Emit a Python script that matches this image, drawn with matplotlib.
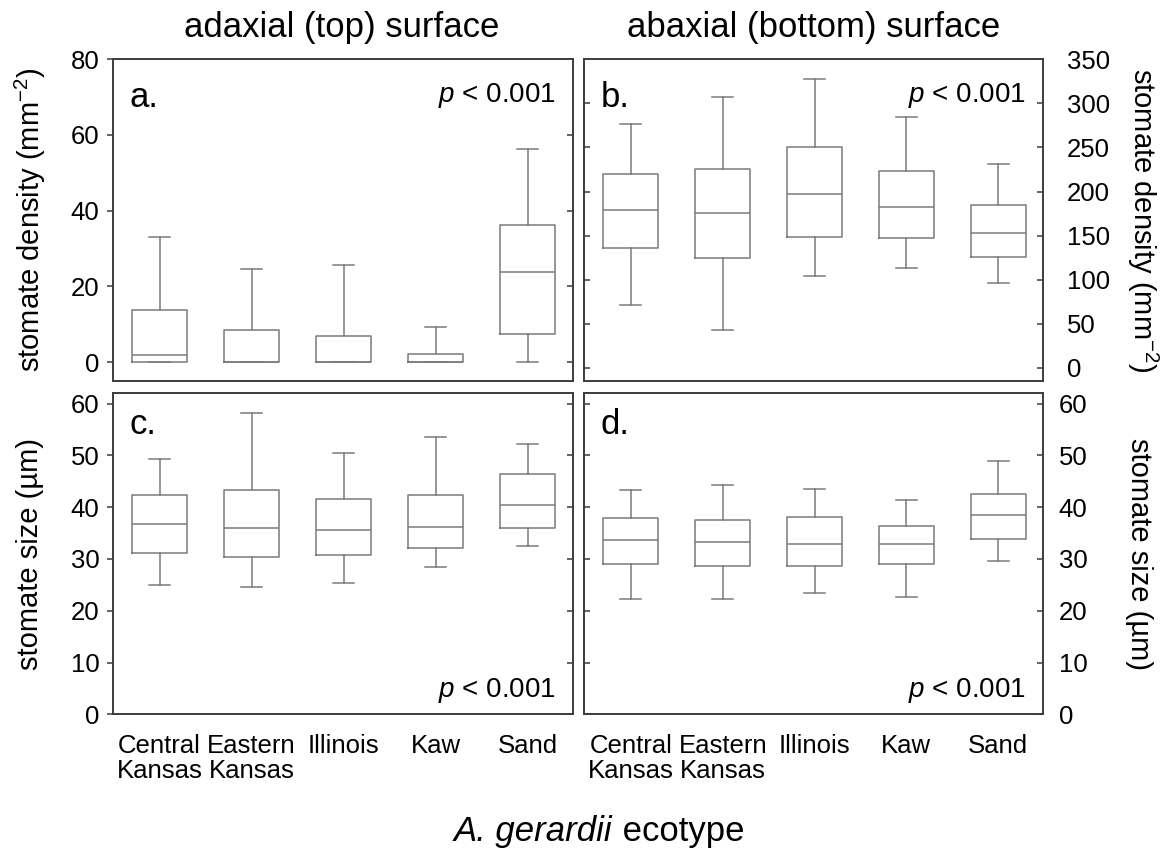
import matplotlib
matplotlib.use('Agg')
import matplotlib.pyplot as plt

plt.rcParams['font.family'] = ['Liberation Sans', 'DejaVu Sans']
plt.rcParams['mathtext.fontset'] = 'custom'
plt.rcParams['mathtext.rm'] = 'Liberation Sans'
plt.rcParams['mathtext.it'] = 'Liberation Sans:italic'
plt.rcParams['mathtext.bf'] = 'Liberation Sans:bold'

ecotypes = ['Central\nKansas', 'Eastern\nKansas', 'Illinois', 'Kaw', 'Sand']

# (a) adaxial stomate density (mm^-2)
a_whislo = [0.0, 0.0, 0.0, 0.0, 0.0]
a_q1 = [0.0, 0.0, 0.0, 0.0, 7.5]
a_med = [1.8, 0.0, 0.0, 0.0, 23.9]
a_q3 = [13.7, 8.5, 6.8, 2.2, 36.1]
a_whishi = [33.1, 24.6, 25.6, 9.2, 56.3]

# (b) abaxial stomate density (mm^-2)
b_whislo = [71, 43, 104, 113, 96]
b_q1 = [136, 125, 148, 147, 126]
b_med = [179, 176, 197, 182, 153]
b_q3 = [220, 225, 250, 223, 185]
b_whishi = [277, 307, 328, 284, 231]

# (c) adaxial stomate size (um)
c_whislo = [25.0, 24.6, 25.4, 28.5, 32.6]
c_q1 = [31.2, 30.4, 30.8, 32.1, 36.0]
c_med = [36.7, 36.0, 35.6, 36.1, 40.5]
c_q3 = [42.4, 43.3, 41.5, 42.4, 46.5]
c_whishi = [49.3, 58.1, 50.5, 53.6, 52.3]

# (d) abaxial stomate size (um)
d_whislo = [22.2, 22.2, 23.5, 22.7, 29.6]
d_q1 = [29.0, 28.6, 28.6, 29.0, 33.8]
d_med = [33.6, 33.2, 32.8, 32.9, 38.5]
d_q3 = [38.0, 37.5, 38.2, 36.4, 42.6]
d_whishi = [43.4, 44.3, 43.5, 41.4, 48.9]

W, H = 1167, 860
fig = plt.figure(figsize=(W / 100, H / 100), dpi=100)

def px_axes(x0, y0, x1, y1):
    return fig.add_axes([x0 / W, 1 - y1 / H, (x1 - x0) / W, (y1 - y0) / H])

ax_a = px_axes(112.7, 59.3, 572.7, 381)
ax_b = px_axes(584, 59.3, 1043.3, 381)
ax_c = px_axes(112.7, 393.3, 572.7, 714.3)
ax_d = px_axes(584, 393.3, 1043.3, 714.3)

box_col = '#7a7a7a'
spine_col = '#3c3c3c'
TICK_FS = 18.5

def draw(ax, lo, q1, med, q3, hi):
    stats = []
    for i in range(len(ecotypes)):
        stats.append(dict(whislo=lo[i], q1=q1[i], med=med[i], q3=q3[i], whishi=hi[i], fliers=[]))
    lp = dict(color=box_col, linewidth=1.1)
    ax.bxp(stats, positions=list(range(len(ecotypes))), widths=0.6, capwidths=0.23,
           showfliers=False, boxprops=lp, whiskerprops=lp, capprops=lp,
           medianprops=lp, manage_ticks=False)
    ax.set_xlim(-0.51, 4.49)
    for s in ax.spines.values():
        s.set_color(spine_col)
        s.set_linewidth(1.4)

draw(ax_a, a_whislo, a_q1, a_med, a_q3, a_whishi)
draw(ax_b, b_whislo, b_q1, b_med, b_q3, b_whishi)
draw(ax_c, c_whislo, c_q1, c_med, c_q3, c_whishi)
draw(ax_d, d_whislo, d_q1, d_med, d_q3, d_whishi)

def left_panel(ax, ylim, ticks):
    ax.set_ylim(*ylim)
    ax.set_yticks(ticks)
    ax.tick_params(axis='y', direction='out', length=4.5, width=1.1, color=spine_col,
                   labelsize=TICK_FS, pad=5, right=False)
    tw = ax.twinx()
    tw.set_ylim(*ylim)
    tw.set_yticks(ticks)
    tw.tick_params(axis='y', direction='in', length=4.5, width=1.1, color=spine_col,
                   labelright=False)
    for s in tw.spines.values():
        s.set_visible(False)

def right_panel(ax, ylim, ticks, pad):
    ax.set_ylim(*ylim)
    ax.set_yticks(ticks)
    ax.tick_params(axis='y', direction='in', length=4.5, width=1.1, color=spine_col,
                   left=True, right=True, labelleft=False, labelright=True,
                   labelsize=TICK_FS, pad=pad)

left_panel(ax_a, (-5, 80), [0, 20, 40, 60, 80])
right_panel(ax_b, (-15, 350), list(range(0, 351, 50)), 17)
left_panel(ax_c, (0, 62), list(range(0, 61, 10)))
right_panel(ax_d, (0, 62), list(range(0, 61, 10)), 11)

for ax in (ax_a, ax_b):
    ax.set_xticks([])
for ax in (ax_c, ax_d):
    ax.set_xticks(list(range(len(ecotypes))))
    ax.set_xticklabels(ecotypes, fontsize=TICK_FS, linespacing=1.05)
    ax.tick_params(axis='x', length=0, pad=14)

# panel letters and p-values
for ax, lab, yb in ((ax_a, 'a.', 0.853), (ax_b, 'b.', 0.853), (ax_c, 'c.', 0.872), (ax_d, 'd.', 0.872)):
    ax.text(0.036, yb, lab, transform=ax.transAxes, fontsize=25, va='baseline', ha='left')
for ax, yb in ((ax_a, 0.867), (ax_b, 0.867), (ax_c, 0.053), (ax_d, 0.053)):
    ax.text(0.963, yb, r'$p$ < 0.001', transform=ax.transAxes, fontsize=20,
            va='baseline', ha='right')

# titles
fig.text(342 / W, 1 - 28 / H, 'adaxial (top) surface', fontsize=25, ha='center', va='center')
fig.text(814 / W, 1 - 28 / H, 'abaxial (bottom) surface', fontsize=25, ha='center', va='center')

# axis labels
fig.text(30 / W, 1 - 220 / H, r'stomate density (mm$^{-2}$)', fontsize=21, rotation=90,
         ha='center', va='center')
fig.text(30 / W, 1 - 554 / H, 'stomate size (\u00b5m)', fontsize=21, rotation=90,
         ha='center', va='center')
fig.text(1143 / W, 1 - 220 / H, r'stomate density (mm$^{-2}$)', fontsize=21, rotation=270,
         ha='center', va='center')
fig.text(1139 / W, 1 - 554 / H, 'stomate size (\u00b5m)', fontsize=21, rotation=270,
         ha='center', va='center')

# x label: italic species name + normal word, measured so they sit side by side
renderer = fig.canvas.get_renderer()
t1 = fig.text(0, 1 - 832 / H, 'A. gerardii', fontsize=25, fontstyle='italic',
              ha='left', va='center')
t2 = fig.text(0, 1 - 832 / H, ' ecotype', fontsize=25, ha='left', va='center')
w1 = t1.get_window_extent(renderer).width
w2 = t2.get_window_extent(renderer).width
x0 = 599 - (w1 + w2) / 2
t1.set_x(x0 / W)
t2.set_x((x0 + w1) / W)

fig.savefig('out.png', dpi=100)
